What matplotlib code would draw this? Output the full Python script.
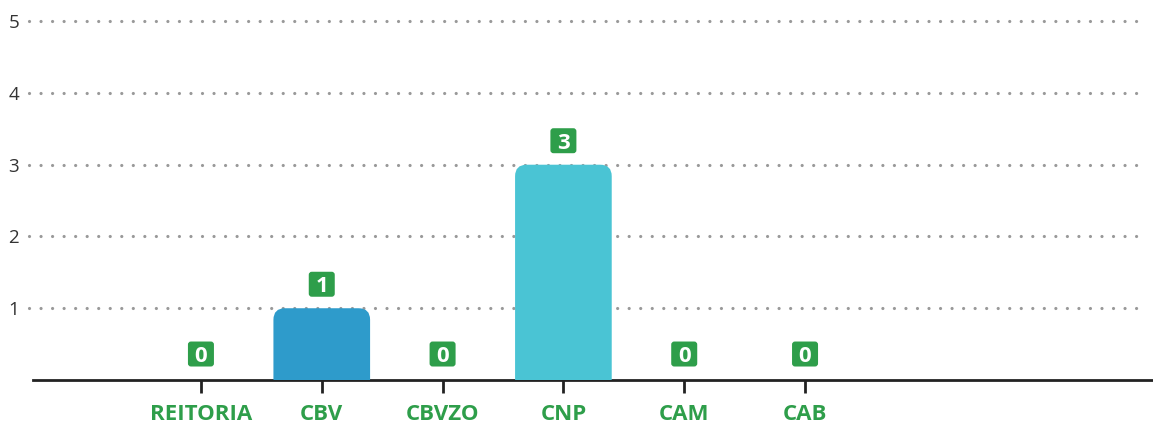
import matplotlib.pyplot as plt
from matplotlib.patches import FancyBboxPatch

categories = ['REITORIA', 'CBV', 'CBVZO', 'CNP', 'CAM', 'CAB']
values = [0, 1, 0, 3, 0, 0]
bar_colors = ['#2e9bcb', '#2e9bcb', '#2e9bcb', '#4ac4d4', '#2e9bcb', '#2e9bcb']
y_ticks = [1, 2, 3, 4, 5]

green = '#2e9e4a'

plt.rcParams['font.family'] = ['Open Sans', 'DejaVu Sans']

fig = plt.figure(figsize=(11.53, 4.23), dpi=100)
# axes: left 33px, right 1153px, bottom y=380px, top y=21 for value 5
ax = fig.add_axes([33 / 1153, (423 - 380) / 423, 1120 / 1153, (380 - 14) / 423])

x_pos = list(range(len(categories)))
ax.set_xlim(-1.39, 7.88)
ax.set_ylim(0, 5.1)

# pixels per data unit
px_x = 1120 / (7.88 + 1.39)
px_y = (380 - 21) / 5
aspect = px_x / px_y

# rounded-top bars
for x, v, c in zip(x_pos, values, bar_colors):
    if v <= 0:
        continue
    patch = FancyBboxPatch((x - 0.4, -0.3), 0.8, v + 0.3,
                           boxstyle='round,pad=0,rounding_size=0.095',
                           mutation_aspect=aspect, facecolor=c,
                           edgecolor='none', zorder=3, clip_on=True)
    ax.add_patch(patch)

# value labels (green boxes)
bw, bh = 26 / px_x, 25 / px_y
for x, v in zip(x_pos, values):
    yc = v + (24 if v > 0 else 26) / px_y
    box = FancyBboxPatch((x - bw / 2, yc - bh / 2), bw, bh,
                         boxstyle='round,pad=0,rounding_size=0.025',
                         mutation_aspect=aspect, facecolor=green,
                         edgecolor='none', zorder=5)
    ax.add_patch(box)
    ax.text(x, yc - 8 / px_y, str(v), ha='center', va='baseline',
            color='white', fontsize=16, fontweight='bold', zorder=6)

# dotted grid
for t in y_ticks:
    ax.axhline(t, color='#999999', linestyle=(0, (0.01, 3.6)), linewidth=2.3,
               dash_capstyle='round', zorder=1, xmin=-4 / 1120, xmax=1114 / 1120,
               clip_on=False)

ax.set_yticks(y_ticks)
ax.set_yticklabels([str(t) for t in y_ticks], fontsize=13.5, color='#333333')
ax.tick_params(axis='y', length=0, pad=10)

ax.set_xticks(x_pos)
ax.set_xticklabels(categories, fontsize=16, fontweight='bold', color=green)
ax.tick_params(axis='x', length=9, width=2, color='#222222', pad=8, direction='out')

for s in ['top', 'right', 'left']:
    ax.spines[s].set_visible(False)
ax.spines['bottom'].set_linewidth(2)
ax.spines['bottom'].set_color('#222222')

fig.savefig('out.png', dpi=100)
